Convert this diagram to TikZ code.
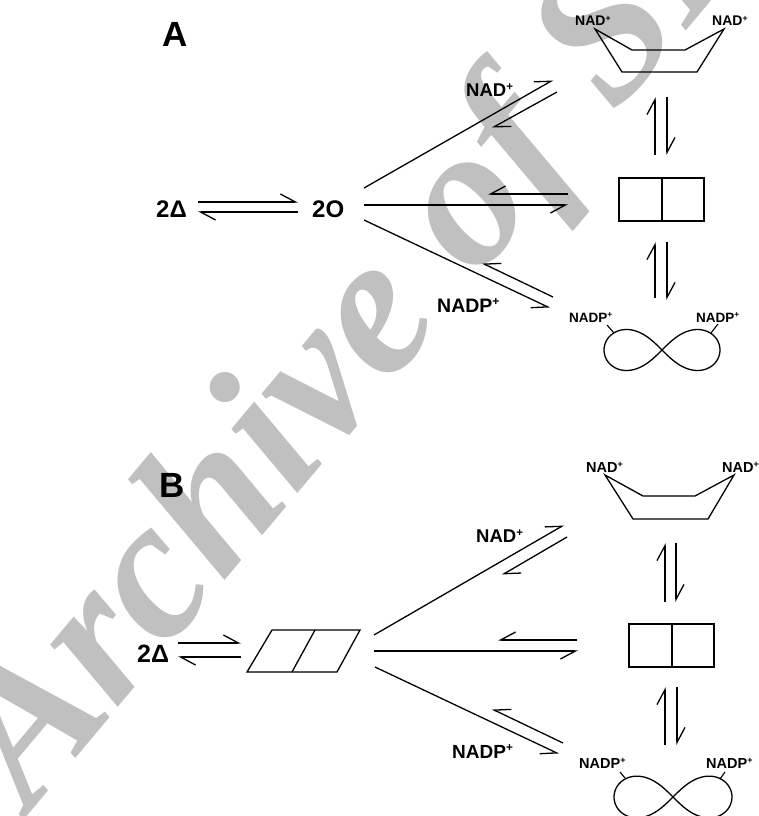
\documentclass[tikz,border=0pt]{standalone}
\usepackage{fontspec}
\setmainfont{Liberation Sans}
\newfontfamily\wmfont{Liberation Serif}
\usetikzlibrary{arrows.meta}
\definecolor{wmgray}{RGB}{192,192,192}
% small raised charge sign
\newcommand\chg{\raisebox{0.32em}{\scalebox{0.62}{+}}}

\begin{document}
\begin{tikzpicture}[x=1pt,y=-1pt,
  line/.style={line width=1.3pt, line join=miter},
  % half arrows: barb on the left of the direction of travel ...
  harp/.style={line width=1.3pt, -{Straight Barb[harpoon,length=15pt,width=16pt]}},
  % ... or on its right
  harpr/.style={line width=1.3pt, -{Straight Barb[harpoon,swap,length=15pt,width=16pt]}},
  lbl/.style={inner sep=0pt, anchor=base west, font=\bfseries\fontsize{#1}{#1}\selectfont},
  tick/.style={line width=1.1pt},
]
\useasboundingbox (0,0) rectangle (758,816);
\clip (0,0) rectangle (758,816);

% watermark behind everything
\node[anchor=base west, rotate=50, text=wmgray, inner sep=0pt,
      font=\wmfont\bfseries\itshape\fontsize{200}{200}\selectfont] (wm) at (30,813) {Archive of SID};

%================ panel A ================
\node[lbl=35] (labA) at (162,47) {A};
\node[lbl=24] (dA) at (156,217) {2Δ};
\node[lbl=24] (oA) at (312,217) {2O};

\coordinate (a1s) at (198,202); \coordinate (a1e) at (298,202);
\coordinate (a2s) at (298,212); \coordinate (a2e) at (198,212);
\draw[harp] (a1s) -- (a1e);
\draw[harp] (a2s) -- (a2e);

% fan from 2O
\coordinate (fu1s) at (364,188); \coordinate (fu1e) at (553,80);
\coordinate (fu2s) at (557,92);  \coordinate (fu2e) at (492,128);
\coordinate (fm1s) at (364,205); \coordinate (fm1e) at (568,205);
\coordinate (fm2s) at (568,194); \coordinate (fm2e) at (488,194);
\coordinate (fl1s) at (364,220); \coordinate (fl1e) at (550,308);
\coordinate (fl2s) at (553,297); \coordinate (fl2e) at (482,263);
\draw[harp] (fu1s) -- (fu1e);
\draw[harp] (fu2s) -- (fu2e);
\draw[harpr] (fm1s) -- (fm1e);
\draw[harpr] (fm2s) -- (fm2e);
\draw[harpr] (fl1s) -- (fl1e);
\draw[harpr] (fl2s) -- (fl2e);
\node[lbl=18.5] (nadA) at (466,96) {NAD\chg};
\node[lbl=19.5] (nadpA) at (437,312) {NADP\chg};

% chair ring
\draw[line] (595,29) -- (632,50) -- (685,50) -- (724,29) -- (697,72) -- (622,72) -- cycle;
\node[lbl=14] (rA1) at (575,26) {NAD\chg};
\node[lbl=14] (rA2) at (712,26) {NAD\chg};

\coordinate (v1s) at (655,155); \coordinate (v1e) at (655,97);
\coordinate (v2s) at (667,97);  \coordinate (v2e) at (667,155);
\draw[harp] (v1s) -- (v1e);
\draw[harp] (v2s) -- (v2e);

% box
\draw[line] (619,178) rectangle (704,221);
\draw[line] (662,178) -- (662,221);

\coordinate (v3s) at (655,298); \coordinate (v3e) at (655,242);
\coordinate (v4s) at (667,242); \coordinate (v4e) at (667,300);
\draw[harp] (v3s) -- (v3e);
\draw[harp] (v4s) -- (v4e);

% figure eight
\draw[line] plot[domain=0:360, samples=120, smooth cycle]
  ({662+58*cos(\x)/(1+sin(\x)*sin(\x))}, {350+58*sin(\x)*cos(\x)/(1+sin(\x)*sin(\x))});
\node[lbl=13.5] (eA1) at (569,322) {NADP\chg};
\node[lbl=13.5] (eA2) at (696,322) {NADP\chg};
\draw[tick] (607,325) -- (614,333);
\draw[tick] (718,324) -- (711,333);

%================ panel B ================
\node[lbl=35] (labB) at (159,497) {B};
\node[lbl=25] (dB) at (137,662) {2Δ};

\coordinate (b1s) at (178,643); \coordinate (b1e) at (241,643);
\coordinate (b2s) at (241,657); \coordinate (b2e) at (178,657);
\draw[harp] (b1s) -- (b1e);
\draw[harp] (b2s) -- (b2e);

% parallelogram dimer
\draw[line] (272,630) -- (360,630) -- (337,672) -- (247,672) -- cycle;
\draw[line] (315,630) -- (292,672);

\coordinate (gu1s) at (374,635); \coordinate (gu1e) at (564,525);
\coordinate (gu2s) at (567,537); \coordinate (gu2e) at (502,575);
\coordinate (gm1s) at (374,651); \coordinate (gm1e) at (578,651);
\coordinate (gm2s) at (577,640); \coordinate (gm2e) at (498,640);
\coordinate (gl1s) at (375,667); \coordinate (gl1e) at (559,754);
\coordinate (gl2s) at (563,743); \coordinate (gl2e) at (492,709);
\draw[harp] (gu1s) -- (gu1e);
\draw[harp] (gu2s) -- (gu2e);
\draw[harpr] (gm1s) -- (gm1e);
\draw[harpr] (gm2s) -- (gm2e);
\draw[harpr] (gl1s) -- (gl1e);
\draw[harpr] (gl2s) -- (gl2e);
\node[lbl=18.5] (nadB) at (476,542) {NAD\chg};
\node[lbl=19] (nadpB) at (452,758) {NADP\chg};

\draw[line] (605,475) -- (643,496) -- (695,496) -- (734,475) -- (708,519) -- (633,519) -- cycle;
\node[lbl=14.5] (rB1) at (586,472) {NAD\chg};
\node[lbl=14.5] (rB2) at (722,472) {NAD\chg};

\coordinate (w1s) at (665,602); \coordinate (w1e) at (665,543);
\coordinate (w2s) at (676,543); \coordinate (w2e) at (676,602);
\draw[harp] (w1s) -- (w1e);
\draw[harp] (w2s) -- (w2e);

\draw[line] (629,624) rectangle (714,667);
\draw[line] (672,624) -- (672,667);

\coordinate (w3s) at (665,745); \coordinate (w3e) at (665,687);
\coordinate (w4s) at (677,687); \coordinate (w4e) at (677,745);
\draw[harp] (w3s) -- (w3e);
\draw[harp] (w4s) -- (w4e);

\draw[line] plot[domain=0:360, samples=120, smooth cycle]
  ({673+59*cos(\x)/(1+sin(\x)*sin(\x))}, {797+59*sin(\x)*cos(\x)/(1+sin(\x)*sin(\x))});
\node[lbl=14.5] (eB1) at (579,768) {NADP\chg};
\node[lbl=14.5] (eB2) at (706,768) {NADP\chg};
\draw[tick] (620,772) -- (625,778);
\draw[tick] (725,772) -- (720,779);
\end{tikzpicture}
\end{document}
